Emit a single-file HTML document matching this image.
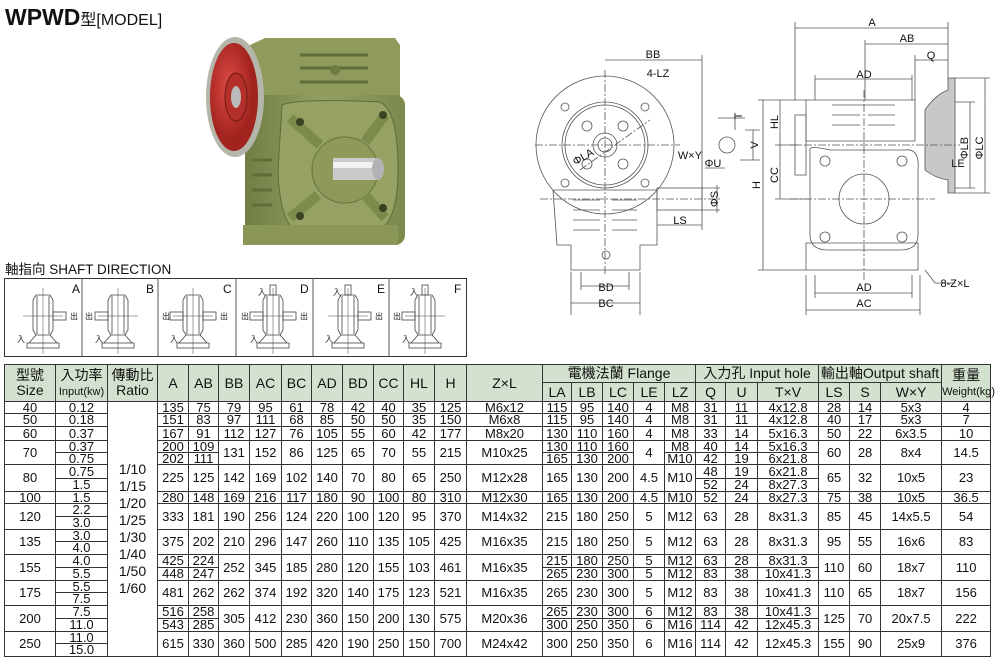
<!DOCTYPE html>
<html><head><meta charset="utf-8"><style>
body{margin:0;width:1000px;height:671px;background:#fff;position:relative;overflow:hidden;font-family:"Liberation Sans","Noto Sans CJK TC",sans-serif;color:#111}
.abs{position:absolute}
table{position:absolute;left:4px;top:364px;width:986px;border-collapse:collapse;table-layout:fixed}
td{border:1px solid #333;padding:0;text-align:center;font-size:13px;line-height:10px;white-space:nowrap;overflow:visible}
tr.h td{background:#d3e2cf;font-size:14px;line-height:15px}
.sm{font-size:11px;line-height:12px}
.rt{font-size:14px;line-height:17px;vertical-align:middle}
</style></head><body>
<div class="abs" style="left:5px;top:4px;font-size:23px;font-weight:bold;letter-spacing:0px">WPWD<span style="font-weight:normal;font-size:16px">型[MODEL]</span></div>
<div class="abs" style="left:5px;top:258px;font-size:13.5px">軸指向 SHAFT DIRECTION</div>

<svg class="abs" style="left:0;top:0" width="1000" height="364" viewBox="0 0 1000 364">
<defs>
<linearGradient id="gb" x1="0" x2="1"><stop offset="0" stop-color="#6f7f44"/><stop offset=".5" stop-color="#93a064"/><stop offset="1" stop-color="#7a8a4c"/></linearGradient>
<radialGradient id="rf" cx=".4" cy=".4"><stop offset="0" stop-color="#e04a44"/><stop offset="1" stop-color="#a0231e"/></radialGradient>
<g id="sk" fill="none" stroke="#444" stroke-width="0.8">
<path d="M-10,300 L-7,295 H7 L10,300 V330 L7,335 H-7 L-10,330 Z"/>
<path d="M-6,296 V334 M6,296 V334"/>
<path d="M-7,335 L-14,343 M7,335 L14,343"/>
<rect x="-16" y="343" width="32" height="5"/>
<path d="M0,288 V354 M-20,316 H20" stroke-width="0.5"/>
</g>
</defs>
<!-- photo -->
<path d="M250,45 L265,38 H395 L400,45 V100 H255 Z" fill="#8e9b5c"/>
<path d="M300,55 H368 M300,68 H368 M300,82 H368" stroke="#5f6d38" stroke-width="3"/>
<circle cx="335" cy="70" r="5" fill="#6d7a42"/>
<rect x="245" y="95" width="160" height="150" rx="10" fill="url(#gb)"/>
<path d="M282,105 Q300,98 380,102 Q398,110 398,170 Q398,225 375,232 H300 Q280,228 278,170 Z" fill="#95a263" stroke="#5f6d38"/>
<circle cx="345" cy="170" r="33" fill="#8d9a5a" stroke="#66733d"/>
<path d="M290,118 L320,145 M385,115 L365,142 M290,218 L318,195 M385,218 L365,195" stroke="#7c8a4c" stroke-width="10"/>
<g fill="#3a4222"><circle cx="300" cy="122" r="4"/><circle cx="383" cy="115" r="4"/><circle cx="300" cy="216" r="4"/><circle cx="383" cy="208" r="4"/></g>
<path d="M252,160 H272 M252,175 H272 M252,190 H272 M252,205 H272" stroke="#5f6d38" stroke-width="3"/>
<rect x="243" y="225" width="155" height="20" fill="#8a9758"/>
<rect x="333" y="158" width="45" height="22" fill="#c8cacc"/><rect x="333" y="162" width="45" height="6" fill="#f2f2f2"/>
<ellipse cx="378" cy="169" rx="6" ry="11" fill="#b0b2b4"/>
<ellipse cx="235" cy="97" rx="29" ry="60" fill="#b3b6a8"/>
<ellipse cx="234" cy="97" rx="24" ry="54" fill="url(#rf)"/>
<ellipse cx="236" cy="97" rx="11" ry="24" fill="#b42f29" stroke="#6e1a16"/>
<ellipse cx="236" cy="97" rx="5" ry="11" fill="#bbb"/>
<!-- shaft direction boxes -->
<rect x="4.5" y="278.5" width="462" height="78" fill="none" stroke="#333"/>
<path d="M82,278V357 M158,278V357 M236,278V357 M313,278V357 M389,278V357" stroke="#555" fill="none"/>
<g font-size="12" fill="#111"><text x="72" y="293">A</text><text x="146" y="293">B</text><text x="223" y="293">C</text><text x="300" y="293">D</text><text x="377" y="293">E</text><text x="454" y="293">F</text></g>
<g fill="none" stroke="#444" stroke-width="0.8">
<use href="#sk" x="43"/><rect x="53" y="312" width="13" height="8"/>
<use href="#sk" x="118"/><rect x="95" y="312" width="13" height="8"/>
<use href="#sk" x="193"/><rect x="170" y="312" width="13" height="8"/><rect x="203" y="312" width="13" height="8"/>
<use href="#sk" x="273"/><rect x="250" y="312" width="13" height="8"/><rect x="283" y="312" width="13" height="8"/><rect x="270" y="285" width="6" height="10"/>
<use href="#sk" x="348"/><rect x="358" y="312" width="13" height="8"/><rect x="345" y="285" width="6" height="10"/>
<use href="#sk" x="425"/><rect x="402" y="312" width="13" height="8"/><rect x="422" y="285" width="6" height="10"/>
</g>
<g font-size="8" fill="#222"><text x="17" y="342">入</text><text x="95" y="342">入</text><text x="170" y="342">入</text><text x="250" y="342">入</text><text x="325" y="342">入</text><text x="402" y="342">入</text>
<text x="258" y="295">入</text><text x="333" y="295">入</text><text x="410" y="295">入</text>
<text x="70" y="319">出</text><text x="85" y="319">出</text><text x="162" y="319">出</text><text x="220" y="319">出</text><text x="241" y="319">出</text><text x="300" y="319">出</text><text x="375" y="319">出</text><text x="393" y="319">出</text></g>
<!-- technical drawing -->
<g fill="none" stroke="#555" stroke-width="0.8">
<circle cx="605" cy="145" r="69"/><circle cx="605" cy="145" r="43"/><circle cx="605" cy="145" r="40"/><circle cx="605" cy="145" r="12"/><circle cx="605" cy="145" r="7"/>
<circle cx="587" cy="126" r="5"/><circle cx="623" cy="126" r="5"/><circle cx="587" cy="164" r="5"/><circle cx="623" cy="164" r="5"/>
<circle cx="565" cy="107" r="4"/><circle cx="645" cy="107" r="4"/><circle cx="565" cy="183" r="4"/><circle cx="645" cy="183" r="4"/>
<path d="M553,190 H657 V245 H640 V270 H571 V245 H557 Z"/>
<path d="M573,200 H600 M573,210 H600 M573,220 H600 M573,230 H600 M612,200 H637 M612,210 H637 M612,220 H637 M612,230 H637"/>
<rect x="657" y="188" width="45" height="22"/><circle cx="606" cy="255" r="4"/>
<path d="M535,145 H680 M605,70 V275 M540,199 H720 M580,170 L650,120" stroke-dasharray="8 2 2 2"/>
<path d="M605,60 H702 M702,55 V230 M657,225 H702 M581,286 H629 M571,303 H640 M571,272 V315 M640,272 V315 M581,272 V290 M629,272 V290 M702,188 H720 M702,210 H720 M717,185 V213"/>
<circle cx="727" cy="145" r="8"/>
<path d="M718,118 H745 M735,118 V130 M745,130 H760 M753,130 V160 M740,160 H760 M705,168 H725"/>
<path d="M806,100 H915 V141 H806 Z M810,150 Q808,145 830,150 H905 Q920,148 918,170 V235 Q918,250 900,250 H828 Q810,250 810,235 Z M806,243 H918 V270 H806 Z"/>
<circle cx="864" cy="199" r="25"/><circle cx="825" cy="161" r="5"/><circle cx="902" cy="161" r="5"/><circle cx="825" cy="237" r="5"/><circle cx="902" cy="237" r="5"/>
<path d="M832,115 H860 M832,125 H860 M868,115 H895 M868,125 H895 M832,105 H895"/>
<rect x="795" y="115" width="11" height="60"/>
<path d="M925,110 Q935,95 948,90 V78 H955 V193 H948 V180 Q935,178 925,170 Z" fill="#c8c8c8"/>
<path d="M790,145 H960 M790,199 H935 M864,90 V280" stroke-dasharray="8 2 2 2"/>
<path d="M795,22 V100 M795,28 H948 M948,22 V78 M865,40 V100 M865,44 H948 M915,55 V100 M915,60 H948 M815,79 H912 M815,75 V100 M912,75 V100 M763,100 V270 M758,100 H806 M758,270 H806 M780,100 V199 M775,145 H800 M775,199 H810 M970,102 V188 M955,102 H975 M955,188 H975 M985,78 V193 M955,78 H990 M955,193 H990 M815,293 H912 M815,275 V298 M912,275 V298 M806,310 H920 M806,275 V315 M920,275 V315 M925,270 L935,283 H955"/>
</g>
<g font-size="11" fill="#111" text-anchor="middle">
<text x="653" y="58">BB</text><text x="658" y="77">4-LZ</text><text x="606" y="291">BD</text><text x="606" y="307">BC</text><text x="680" y="224">LS</text><text x="690" y="159">W×Y</text><text x="713" y="167">ΦU</text>
<text x="872" y="26">A</text><text x="907" y="42">AB</text><text x="931" y="59">Q</text><text x="864" y="78">AD</text><text x="864" y="291">AD</text><text x="864" y="307">AC</text><text x="955" y="287">8-Z×L</text><text x="958" y="167">LE</text>
<text transform="translate(760,185) rotate(-90)">H</text><text transform="translate(778,122) rotate(-90)">HL</text><text transform="translate(778,175) rotate(-90)">CC</text>
<text transform="translate(968,148) rotate(-90)">ΦLB</text><text transform="translate(983,148) rotate(-90)">ΦLC</text><text transform="translate(718,199) rotate(-90)">ΦS</text><text transform="translate(758,145) rotate(-90)">V</text><text transform="translate(742,116) rotate(-90)">T</text>
<text x="585" y="160" transform="rotate(-30 585 160)">ΦLA</text>
</g>
</svg>

<table>
<colgroup><col style="width:51px"><col style="width:52px"><col style="width:50px"><col style="width:31px"><col style="width:30px"><col style="width:31px"><col style="width:32px"><col style="width:30px"><col style="width:31px"><col style="width:31px"><col style="width:30px"><col style="width:31px"><col style="width:32px"><col style="width:76px"><col style="width:29px"><col style="width:31px"><col style="width:31px"><col style="width:31px"><col style="width:31px"><col style="width:30px"><col style="width:32px"><col style="width:61px"><col style="width:31px"><col style="width:31px"><col style="width:61px"><col style="width:49px"></colgroup>
<tr class="h" style="height:18px"><td rowspan="2">型號<br>Size</td><td rowspan="2">入功率<br><span class="sm">Input(kw)</span></td><td rowspan="2">傳動比<br>Ratio</td><td rowspan="2">A</td><td rowspan="2">AB</td><td rowspan="2">BB</td><td rowspan="2">AC</td><td rowspan="2">BC</td><td rowspan="2">AD</td><td rowspan="2">BD</td><td rowspan="2">CC</td><td rowspan="2">HL</td><td rowspan="2">H</td><td rowspan="2">Z×L</td><td colspan="5">電機法蘭 Flange</td><td colspan="3">入力孔 Input hole</td><td colspan="3">輸出軸Output shaft</td><td rowspan="2">重量<br><span class="sm">Weight(kg)</span></td></tr>
<tr class="h" style="height:19px"><td>LA</td><td>LB</td><td>LC</td><td>LE</td><td>LZ</td><td>Q</td><td>U</td><td>T×V</td><td>LS</td><td>S</td><td>W×Y</td></tr>
<tr style="height:12px"><td>40</td><td>0.12</td><td rowspan="20" class="rt">1/10<br>1/15<br>1/20<br>1/25<br>1/30<br>1/40<br>1/50<br>1/60</td><td>135</td><td>75</td><td>79</td><td>95</td><td>61</td><td>78</td><td>42</td><td>40</td><td>35</td><td>125</td><td>M6x12</td><td>115</td><td>95</td><td>140</td><td>4</td><td>M8</td><td>31</td><td>11</td><td>4x12.8</td><td>28</td><td>14</td><td>5x3</td><td>4</td></tr>
<tr style="height:13px"><td>50</td><td>0.18</td><td>151</td><td>83</td><td>97</td><td>111</td><td>68</td><td>85</td><td>50</td><td>50</td><td>35</td><td>150</td><td>M6x8</td><td>115</td><td>95</td><td>140</td><td>4</td><td>M8</td><td>31</td><td>11</td><td>4x12.8</td><td>40</td><td>17</td><td>5x3</td><td>7</td></tr>
<tr style="height:14px"><td>60</td><td>0.37</td><td>167</td><td>91</td><td>112</td><td>127</td><td>76</td><td>105</td><td>55</td><td>60</td><td>42</td><td>177</td><td>M8x20</td><td>130</td><td>110</td><td>160</td><td>4</td><td>M8</td><td>33</td><td>14</td><td>5x16.3</td><td>50</td><td>22</td><td>6x3.5</td><td>10</td></tr>
<tr style="height:12px"><td rowspan="2">70</td><td>0.37</td><td>200</td><td>109</td><td rowspan="2">131</td><td rowspan="2">152</td><td rowspan="2">86</td><td rowspan="2">125</td><td rowspan="2">65</td><td rowspan="2">70</td><td rowspan="2">55</td><td rowspan="2">215</td><td rowspan="2">M10x25</td><td>130</td><td>110</td><td>160</td><td rowspan="2">4</td><td>M8</td><td>40</td><td>14</td><td>5x16.3</td><td rowspan="2">60</td><td rowspan="2">28</td><td rowspan="2">8x4</td><td rowspan="2">14.5</td></tr>
<tr style="height:12px"><td>0.75</td><td>202</td><td>111</td><td>165</td><td>130</td><td>200</td><td>M10</td><td>42</td><td>19</td><td>6x21.8</td></tr>
<tr style="height:14px"><td rowspan="2">80</td><td>0.75</td><td rowspan="2">225</td><td rowspan="2">125</td><td rowspan="2">142</td><td rowspan="2">169</td><td rowspan="2">102</td><td rowspan="2">140</td><td rowspan="2">70</td><td rowspan="2">80</td><td rowspan="2">65</td><td rowspan="2">250</td><td rowspan="2">M12x28</td><td rowspan="2">165</td><td rowspan="2">130</td><td rowspan="2">200</td><td rowspan="2">4.5</td><td rowspan="2">M10</td><td>48</td><td>19</td><td>6x21.8</td><td rowspan="2">65</td><td rowspan="2">32</td><td rowspan="2">10x5</td><td rowspan="2">23</td></tr>
<tr style="height:13px"><td>1.5</td><td>52</td><td>24</td><td>8x27.3</td></tr>
<tr style="height:12px"><td>100</td><td>1.5</td><td>280</td><td>148</td><td>169</td><td>216</td><td>117</td><td>180</td><td>90</td><td>100</td><td>80</td><td>310</td><td>M12x30</td><td>165</td><td>130</td><td>200</td><td>4.5</td><td>M10</td><td>52</td><td>24</td><td>8x27.3</td><td>75</td><td>38</td><td>10x5</td><td>36.5</td></tr>
<tr style="height:13px"><td rowspan="2">120</td><td>2.2</td><td rowspan="2">333</td><td rowspan="2">181</td><td rowspan="2">190</td><td rowspan="2">256</td><td rowspan="2">124</td><td rowspan="2">220</td><td rowspan="2">100</td><td rowspan="2">120</td><td rowspan="2">95</td><td rowspan="2">370</td><td rowspan="2">M14x32</td><td rowspan="2">215</td><td rowspan="2">180</td><td rowspan="2">250</td><td rowspan="2">5</td><td rowspan="2">M12</td><td rowspan="2">63</td><td rowspan="2">28</td><td rowspan="2">8x31.3</td><td rowspan="2">85</td><td rowspan="2">45</td><td rowspan="2">14x5.5</td><td rowspan="2">54</td></tr>
<tr style="height:13px"><td>3.0</td></tr>
<tr style="height:12px"><td rowspan="2">135</td><td>3.0</td><td rowspan="2">375</td><td rowspan="2">202</td><td rowspan="2">210</td><td rowspan="2">296</td><td rowspan="2">147</td><td rowspan="2">260</td><td rowspan="2">110</td><td rowspan="2">135</td><td rowspan="2">105</td><td rowspan="2">425</td><td rowspan="2">M16x35</td><td rowspan="2">215</td><td rowspan="2">180</td><td rowspan="2">250</td><td rowspan="2">5</td><td rowspan="2">M12</td><td rowspan="2">63</td><td rowspan="2">28</td><td rowspan="2">8x31.3</td><td rowspan="2">95</td><td rowspan="2">55</td><td rowspan="2">16x6</td><td rowspan="2">83</td></tr>
<tr style="height:13px"><td>4.0</td></tr>
<tr style="height:13px"><td rowspan="2">155</td><td>4.0</td><td>425</td><td>224</td><td rowspan="2">252</td><td rowspan="2">345</td><td rowspan="2">185</td><td rowspan="2">280</td><td rowspan="2">120</td><td rowspan="2">155</td><td rowspan="2">103</td><td rowspan="2">461</td><td rowspan="2">M16x35</td><td>215</td><td>180</td><td>250</td><td>5</td><td>M12</td><td>63</td><td>28</td><td>8x31.3</td><td rowspan="2">110</td><td rowspan="2">60</td><td rowspan="2">18x7</td><td rowspan="2">110</td></tr>
<tr style="height:13px"><td>5.5</td><td>448</td><td>247</td><td>265</td><td>230</td><td>300</td><td>5</td><td>M12</td><td>83</td><td>38</td><td>10x41.3</td></tr>
<tr style="height:12px"><td rowspan="2">175</td><td>5.5</td><td rowspan="2">481</td><td rowspan="2">262</td><td rowspan="2">262</td><td rowspan="2">374</td><td rowspan="2">192</td><td rowspan="2">320</td><td rowspan="2">140</td><td rowspan="2">175</td><td rowspan="2">123</td><td rowspan="2">521</td><td rowspan="2">M16x35</td><td rowspan="2">265</td><td rowspan="2">230</td><td rowspan="2">300</td><td rowspan="2">5</td><td rowspan="2">M12</td><td rowspan="2">83</td><td rowspan="2">38</td><td rowspan="2">10x41.3</td><td rowspan="2">110</td><td rowspan="2">65</td><td rowspan="2">18x7</td><td rowspan="2">156</td></tr>
<tr style="height:13px"><td>7.5</td></tr>
<tr style="height:13px"><td rowspan="2">200</td><td>7.5</td><td>516</td><td>258</td><td rowspan="2">305</td><td rowspan="2">412</td><td rowspan="2">230</td><td rowspan="2">360</td><td rowspan="2">150</td><td rowspan="2">200</td><td rowspan="2">130</td><td rowspan="2">575</td><td rowspan="2">M20x36</td><td>265</td><td>230</td><td>300</td><td>6</td><td>M12</td><td>83</td><td>38</td><td>10x41.3</td><td rowspan="2">125</td><td rowspan="2">70</td><td rowspan="2">20x7.5</td><td rowspan="2">222</td></tr>
<tr style="height:13px"><td>11.0</td><td>543</td><td>285</td><td>300</td><td>250</td><td>350</td><td>6</td><td>M16</td><td>114</td><td>42</td><td>12x45.3</td></tr>
<tr style="height:12px"><td rowspan="2">250</td><td>11.0</td><td rowspan="2">615</td><td rowspan="2">330</td><td rowspan="2">360</td><td rowspan="2">500</td><td rowspan="2">285</td><td rowspan="2">420</td><td rowspan="2">190</td><td rowspan="2">250</td><td rowspan="2">150</td><td rowspan="2">700</td><td rowspan="2">M24x42</td><td rowspan="2">300</td><td rowspan="2">250</td><td rowspan="2">350</td><td rowspan="2">6</td><td rowspan="2">M16</td><td rowspan="2">114</td><td rowspan="2">42</td><td rowspan="2">12x45.3</td><td rowspan="2">155</td><td rowspan="2">90</td><td rowspan="2">25x9</td><td rowspan="2">376</td></tr>
<tr style="height:13px"><td>15.0</td></tr>
</table>
</body></html>
